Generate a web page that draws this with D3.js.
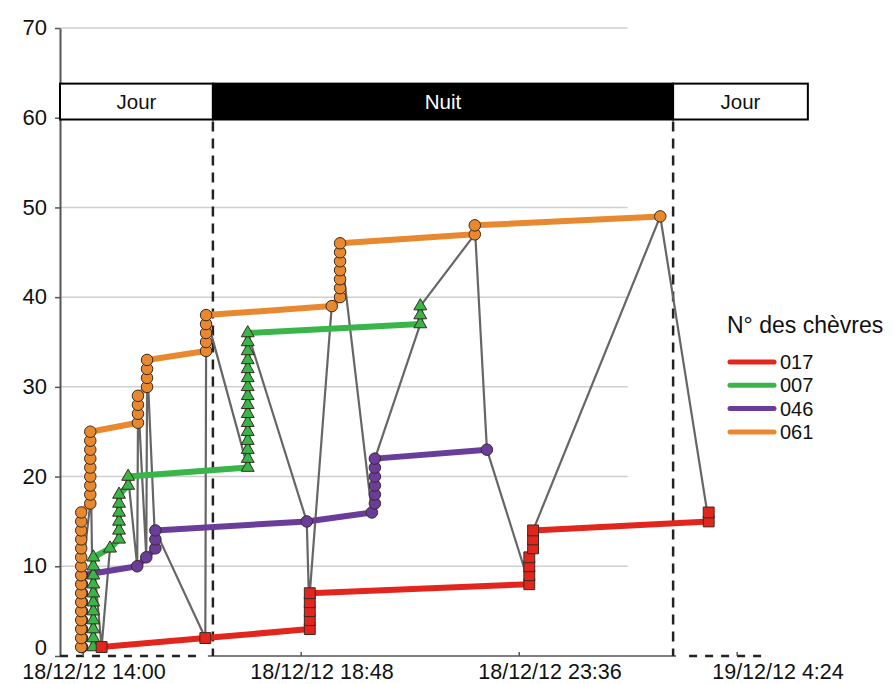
<!DOCTYPE html>
<html>
<head>
<meta charset="utf-8">
<script src="https://cdn.jsdelivr.net/npm/d3@7"></script>
<style>
body { margin: 0; background: #fff; }
text { font-family: "Liberation Sans", Arial, Helvetica, sans-serif; fill: #111; }
</style>
</head>
<body>
<div id="chart"></div>
<script>
var parse = d3.timeParse("%d/%m/%y %H:%M");

// goats (legend order) and their look
var goatNames = ["017", "007", "046", "061"];
var goatColors = ["#e3261d", "#3ab54a", "#6a3d9a", "#e8892f"];

// cumulative number of visits per goat : [time, count]
var goat017 = [
  ["18/12/12 14:25", 1], ["18/12/12 16:42", 2],
  ["18/12/12 19:00", 3], ["18/12/12 19:00", 4], ["18/12/12 19:00", 5], ["18/12/12 19:00", 6], ["18/12/12 19:00", 7],
  ["18/12/12 23:50", 8], ["18/12/12 23:50", 9], ["18/12/12 23:50", 10], ["18/12/12 23:50", 11],
  ["18/12/12 23:55", 12], ["18/12/12 23:55", 13], ["18/12/12 23:55", 14],
  ["19/12/12 03:47", 15], ["19/12/12 03:47", 16]
];
var goat007 = [
  ["18/12/12 14:14", 1], ["18/12/12 14:14", 2], ["18/12/12 14:14", 3], ["18/12/12 14:14", 4], ["18/12/12 14:14", 5],
  ["18/12/12 14:14", 6], ["18/12/12 14:14", 7], ["18/12/12 14:14", 8], ["18/12/12 14:14", 9], ["18/12/12 14:14", 10],
  ["18/12/12 14:14", 11], ["18/12/12 14:36", 12],
  ["18/12/12 14:48", 13], ["18/12/12 14:48", 14], ["18/12/12 14:48", 15], ["18/12/12 14:48", 16], ["18/12/12 14:48", 17], ["18/12/12 14:48", 18],
  ["18/12/12 15:00", 19], ["18/12/12 15:00", 20],
  ["18/12/12 17:38", 21], ["18/12/12 17:38", 22], ["18/12/12 17:38", 23], ["18/12/12 17:38", 24], ["18/12/12 17:38", 25],
  ["18/12/12 17:38", 26], ["18/12/12 17:38", 27], ["18/12/12 17:38", 28], ["18/12/12 17:38", 29], ["18/12/12 17:38", 30],
  ["18/12/12 17:38", 31], ["18/12/12 17:38", 32], ["18/12/12 17:38", 33], ["18/12/12 17:38", 34], ["18/12/12 17:38", 35],
  ["18/12/12 17:38", 36],
  ["18/12/12 21:26", 37], ["18/12/12 21:26", 38], ["18/12/12 21:26", 39]
];
var goat046 = [
  ["18/12/12 13:59", 1], ["18/12/12 13:59", 2], ["18/12/12 13:59", 3], ["18/12/12 13:59", 4], ["18/12/12 13:59", 5],
  ["18/12/12 13:59", 6], ["18/12/12 13:59", 7], ["18/12/12 13:59", 8], ["18/12/12 13:59", 9],
  ["18/12/12 15:12", 10], ["18/12/12 15:24", 11],
  ["18/12/12 15:36", 12], ["18/12/12 15:36", 13], ["18/12/12 15:36", 14],
  ["18/12/12 18:56", 15], ["18/12/12 20:22", 16],
  ["18/12/12 20:26", 17], ["18/12/12 20:26", 18], ["18/12/12 20:26", 19], ["18/12/12 20:26", 20], ["18/12/12 20:26", 21], ["18/12/12 20:26", 22],
  ["18/12/12 22:54", 23]
];
var goat061 = [
  ["18/12/12 13:58", 1], ["18/12/12 13:58", 2], ["18/12/12 13:58", 3], ["18/12/12 13:58", 4], ["18/12/12 13:58", 5],
  ["18/12/12 13:58", 6], ["18/12/12 13:58", 7], ["18/12/12 13:58", 8], ["18/12/12 13:58", 9], ["18/12/12 13:58", 10],
  ["18/12/12 13:58", 11], ["18/12/12 13:58", 12], ["18/12/12 13:58", 13], ["18/12/12 13:58", 14], ["18/12/12 13:58", 15],
  ["18/12/12 13:58", 16],
  ["18/12/12 14:10", 17], ["18/12/12 14:10", 18], ["18/12/12 14:10", 19], ["18/12/12 14:10", 20], ["18/12/12 14:10", 21],
  ["18/12/12 14:10", 22], ["18/12/12 14:10", 23], ["18/12/12 14:10", 24], ["18/12/12 14:10", 25],
  ["18/12/12 15:13", 26], ["18/12/12 15:13", 27], ["18/12/12 15:13", 28], ["18/12/12 15:13", 29],
  ["18/12/12 15:25", 30], ["18/12/12 15:25", 31], ["18/12/12 15:25", 32], ["18/12/12 15:25", 33],
  ["18/12/12 16:43", 34], ["18/12/12 16:43", 35], ["18/12/12 16:43", 36], ["18/12/12 16:43", 37], ["18/12/12 16:43", 38],
  ["18/12/12 19:29", 39],
  ["18/12/12 19:40", 40], ["18/12/12 19:40", 41], ["18/12/12 19:40", 42], ["18/12/12 19:40", 43], ["18/12/12 19:40", 44],
  ["18/12/12 19:40", 45], ["18/12/12 19:40", 46],
  ["18/12/12 22:38", 47], ["18/12/12 22:38", 48],
  ["19/12/12 02:43", 49]
];

var yTicks = [0, 10, 20, 30, 40, 50, 60, 70];
var xTickTimes = ["18/12/12 14:00", "18/12/12 18:48", "18/12/12 23:36", "19/12/12 04:24"];
var xTickLabels = ["18/12/12 14:00", "18/12/12 18:48", "18/12/12 23:36", "19/12/12 4:24"];

// jour / nuit
var periodLabels = ["Jour", "Nuit", "Jour"];
var periodStarts = ["18/12/12 13:30", "18/12/12 16:52", "19/12/12 03:00"];
var periodEnds = ["18/12/12 16:52", "19/12/12 03:00", "19/12/12 05:58"];

var W = 893, H = 684;
var svg = d3.select("#chart").append("svg").attr("width", W).attr("height", H);

var x = d3.scaleTime()
  .domain([parse("18/12/12 13:30"), parse("19/12/12 04:24")])
  .range([60, 736.7]);
var xLabel = d3.scaleTime()
  .domain([parse(xTickTimes[0]), parse(xTickTimes[3])])
  .range([94, 778]);
var y = d3.scaleLinear().domain([0, 70]).range([656, 28]);

var gridEnd = parse("19/12/12 02:00");
var axisEnd = parse("19/12/12 05:00");

// gridlines
svg.append("g").selectAll("line")
  .data(yTicks.slice(1))
  .enter().append("line")
  .attr("x1", x.range()[0]).attr("x2", x(gridEnd))
  .attr("y1", function(d) { return y(d); }).attr("y2", function(d) { return y(d); })
  .attr("stroke", "#cfcfcf").attr("stroke-width", 1.5);

// y axis
var yAxis = svg.append("g").attr("transform", "translate(" + x.range()[0] + ",0)")
  .call(d3.axisLeft(y).tickValues(yTicks).tickSize(5).tickPadding(8).tickSizeOuter(0));
yAxis.select(".domain").attr("stroke", "#555").attr("stroke-width", 2);
yAxis.selectAll(".tick line").attr("stroke", "#555").attr("stroke-width", 1.5);
yAxis.selectAll(".tick text").attr("font-size", 22).attr("fill", "#111")
  .attr("dy", function(d) { return d === 0 ? "-0.08em" : "0.3em"; });

// x axis : dashed in daytime, solid at night
var nightStart = parse(periodStarts[1]), nightEnd = parse(periodEnds[1]);
var axisSegs = [
  [x.domain()[0], nightStart, "8,8"],
  [nightStart, nightEnd, null],
  [nightEnd, axisEnd, "8,8"]
];
svg.append("g").selectAll("line")
  .data(axisSegs)
  .enter().append("line")
  .attr("x1", function(d, i) { return x(d[0]) + (i === 1 ? -5 : (i === 2 ? 16 : 0)); })
  .attr("x2", function(d, i) { return x(d[1]) + (i === 0 ? -16 : (i === 1 ? 3 : 0)); })
  .attr("y1", y(0)).attr("y2", y(0))
  .attr("stroke", function(d) { return d[2] ? "#222" : "#555"; })
  .attr("stroke-width", function(d) { return d[2] ? 2.5 : 1.5; })
  .attr("stroke-dasharray", function(d) { return d[2]; });

var xAxis = svg.append("g").attr("transform", "translate(0," + y(0) + ")")
  .call(d3.axisBottom(x).tickValues(xTickTimes.map(parse)).tickSizeInner(-4).tickSizeOuter(0).tickFormat(""));
xAxis.select(".domain").remove();
xAxis.selectAll(".tick line").attr("stroke", "#555").attr("stroke-width", 1.5);

svg.append("g").selectAll("text")
  .data(xTickTimes)
  .enter().append("text")
  .attr("x", function(d) { return xLabel(parse(d)); })
  .attr("y", 679)
  .attr("text-anchor", "middle")
  .attr("font-size", 21.5)
  .text(function(d, i) { return xTickLabels[i]; });

// day / night band
var band = svg.append("g").selectAll("g")
  .data(periodLabels)
  .enter().append("g");
band.append("rect")
  .attr("x", function(d, i) { return x(parse(periodStarts[i])); })
  .attr("width", function(d, i) { return x(parse(periodEnds[i])) - x(parse(periodStarts[i])); })
  .attr("y", y(63.8)).attr("height", y(59.8) - y(63.8))
  .attr("fill", function(d) { return d === "Nuit" ? "#000" : "#fff"; })
  .attr("stroke", "#000").attr("stroke-width", 2);
band.append("text")
  .attr("x", function(d, i) { return (x(parse(periodStarts[i])) + x(parse(periodEnds[i]))) / 2; })
  .attr("y", (y(63.8) + y(59.8)) / 2 + 7)
  .attr("text-anchor", "middle")
  .attr("font-size", 20.5)
  .style("fill", function(d) { return d === "Nuit" ? "#fff" : "#111"; })
  .text(function(d) { return d; });

// vertical dashed boundaries
svg.append("g").selectAll("line")
  .data([nightStart, nightEnd])
  .enter().append("line")
  .attr("x1", function(d) { return x(d); }).attr("x2", function(d) { return x(d); })
  .attr("y1", y(59.8) + 2).attr("y2", y(0))
  .attr("stroke", "#222").attr("stroke-width", 2.5)
  .attr("stroke-dasharray", "10,7");

// series
var series = [goat017, goat007, goat046, goat061].map(function(arr, gi) {
  return arr.map(function(d) { return { t: parse(d[0]), n: d[1], g: gi }; });
});

// sequence of all visits (grey)
var allEvents = d3.sort([].concat.apply([], series), function(d) { return d.t; }, function(d) { return d.n; });
var line = d3.line().x(function(d) { return x(d.t); }).y(function(d) { return y(d.n); });

svg.append("path")
  .datum(allEvents)
  .attr("d", line)
  .attr("fill", "none")
  .attr("stroke", "#666")
  .attr("stroke-width", 2.2)
  .attr("stroke-linejoin", "round");

svg.append("g").selectAll("path")
  .data(series)
  .enter().append("path")
  .attr("d", line)
  .attr("fill", "none")
  .attr("stroke", function(d, i) { return goatColors[i]; })
  .attr("stroke-width", 6)
  .attr("stroke-linejoin", "round");

// markers: purple, orange, green, red on top
var symbols = [d3.symbol().type(d3.symbolSquare).size(118),
               d3.symbol().type(d3.symbolTriangle).size(72),
               d3.symbol().type(d3.symbolCircle).size(104),
               d3.symbol().type(d3.symbolCircle).size(104)];
[2, 3, 1, 0].forEach(function(gi) {
  svg.append("g").selectAll("path")
    .data(series[gi])
    .enter().append("path")
    .attr("transform", function(d) { return "translate(" + x(d.t) + "," + y(d.n) + ")"; })
    .attr("d", symbols[gi])
    .attr("fill", goatColors[gi])
    .attr("stroke", "#3a2a20")
    .attr("stroke-width", 1);
});

// legend
var legend = svg.append("g").attr("transform", "translate(727,0)");
legend.append("text").attr("x", 0).attr("y", 333).attr("font-size", 23).text("N° des chèvres");
var items = legend.selectAll("g.item")
  .data(goatNames)
  .enter().append("g").attr("class", "item")
  .attr("transform", function(d, i) { return "translate(0," + (362 + i * 23.3) + ")"; });
items.append("line")
  .attr("x1", 3).attr("x2", 47).attr("y1", 0).attr("y2", 0)
  .attr("stroke", function(d, i) { return goatColors[i]; })
  .attr("stroke-width", 5).attr("stroke-linecap", "round");
items.append("text").attr("x", 53).attr("y", 7).attr("font-size", 20).text(function(d) { return d; });
</script>
</body>
</html>
